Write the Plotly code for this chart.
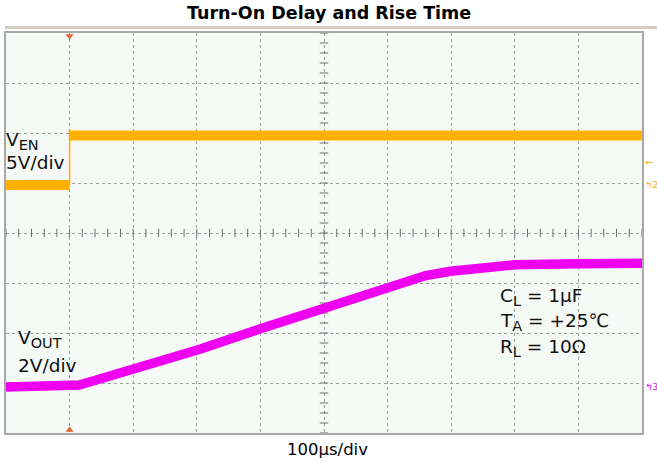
import numpy as np
import plotly.graph_objects as go

# ---------------- data ----------------
# time axis in microseconds, 100 us/div, trigger at t = 0
x_range_us = [-100, 900]
x_divs_us = list(range(-100, 901, 100))

# V_EN channel, 5 V/div
ven_time_us = [-100, 0, None, 0, 900]
ven_volts = [0.0, 0.0, None, 4.95, 4.95]
ven_edge_time_us = [0, 0]
ven_edge_volts = [0.0, 5.6]

# V_OUT channel, 2 V/div
vout_time_us = [-100, 0, 15, 50, 100, 150, 206, 300, 400, 500, 530, 560, 599, 625, 646, 675, 700, 800, 900]
vout_volts = [0.0, 0.0, 0.08, 0.34, 0.71, 1.1, 1.52, 2.33, 3.18, 4.05, 4.28, 4.46, 4.63, 4.72, 4.79, 4.85, 4.89, 4.93, 4.95]

# channel settings (volts per division, ground position in divisions from bottom)
VEN_VDIV, VEN_GND = 5.0, 4.96
VOUT_VDIV, VOUT_GND = 2.0, 0.92
N_YDIV = 8

title_text = "Turn-On Delay and Rise Time"
xlabel_text = "100µs/div"

ORANGE = "#FFB000"
MAGENTA = "#F000F0"
GRID = "#A0A0A0"

# plot-area geometry in page pixels (for placing paper-referenced text)
L, R, T, B = 6, 642, 33, 433
def px(xp):
    return (xp - L) / (R - L)
def py(yp):
    return (B - yp) / (B - T)

def to_div(volts, vdiv, gnd):
    return [None if v is None else gnd + v / vdiv for v in volts]

fig = go.Figure()

# graticule minor ticks on centre lines
xc = (x_range_us[0] + x_range_us[1]) / 2
yc = N_YDIV / 2
hx = np.arange(x_range_us[0], x_range_us[1] + 1e-9, 20.0)
vy = np.arange(0, N_YDIV + 1e-9, 0.2)
fig.add_trace(go.Scatter(x=hx, y=[yc] * len(hx), mode="markers",
                         marker=dict(symbol="line-ns", size=6, line=dict(width=1, color="#707070")),
                         hoverinfo="skip", showlegend=False))
fig.add_trace(go.Scatter(x=[xc] * len(vy), y=vy, mode="markers",
                         marker=dict(symbol="line-ew", size=6, line=dict(width=1, color="#707070")),
                         hoverinfo="skip", showlegend=False))

# traces
fig.add_trace(go.Scatter(x=ven_edge_time_us, y=to_div(ven_edge_volts, VEN_VDIV, VEN_GND),
                         mode="lines", line=dict(color=ORANGE, width=1.5), showlegend=False))
fig.add_trace(go.Scatter(x=ven_time_us, y=to_div(ven_volts, VEN_VDIV, VEN_GND),
                         mode="lines", line=dict(color=ORANGE, width=10), showlegend=False))
fig.add_trace(go.Scatter(x=vout_time_us, y=to_div(vout_volts, VOUT_VDIV, VOUT_GND),
                         mode="lines", line=dict(color=MAGENTA, width=9.5), showlegend=False))

# trigger position markers
fig.add_trace(go.Scatter(x=[0, 0], y=[N_YDIV - 0.06, 0.06], mode="markers",
                         marker=dict(symbol=["triangle-down", "triangle-up"], size=7, color="#E8603A"),
                         hoverinfo="skip", showlegend=False, cliponaxis=False))

FONT = "DejaVu Sans, Liberation Sans, sans-serif"
ann = []
def txt(xp, yp, t, size=18.5, color="#111", xanchor="left"):
    ann.append(dict(x=px(xp), y=py(yp), xref="paper", yref="paper", text=t, showarrow=False,
                    xanchor=xanchor, yanchor="middle", font=dict(family=FONT, size=size, color=color)))

def sub(s):
    return "<sub><span style='font-size:14.5px'>" + s + "</span></sub>"

txt(4, 141, "V" + sub("EN"))
txt(4, 163, "5V/div")
txt(16, 339, "V" + sub("OUT"))
txt(16, 365, "2V/div")
txt(498, 297, "C" + sub("L") + " = 1µF")
txt(498, 322, "T" + sub("A") + " = +25℃")
txt(498, 348, "R" + sub("L") + " = 10Ω")

# right-edge channel markers
txt(643, 163, "←", size=10, color=ORANGE)
txt(643, B - VEN_GND * (B - T) / N_YDIV, "↰2", size=9, color=ORANGE)
txt(643, B - VOUT_GND * (B - T) / N_YDIV, "↰3", size=9, color=MAGENTA)

# title and x label
txt(329, 13, "<b>" + title_text + "</b>", size=17.5, color="#000", xanchor="center")
txt(327, 449, xlabel_text, size=16.5, color="#000", xanchor="center")

fig.update_layout(
    width=657, height=463,
    margin=dict(l=L, r=657 - R, t=T, b=463 - B),
    paper_bgcolor="white", plot_bgcolor="#F6FAF7",
    annotations=ann,
    shapes=[dict(type="line", xref="paper", yref="paper", x0=px(5), x1=px(657),
                 y0=py(27.5), y1=py(27.5), line=dict(color="#D2CEC3", width=3))],
)
fig.update_xaxes(range=x_range_us, tickvals=x_divs_us, showticklabels=False, ticks="",
                 showgrid=True, gridcolor=GRID, griddash="dot", gridwidth=1, zeroline=False,
                 showline=True, mirror=True, linecolor="#A8A8A8", linewidth=2, fixedrange=True)
fig.update_yaxes(range=[0, N_YDIV], tickvals=list(range(N_YDIV + 1)), showticklabels=False, ticks="",
                 showgrid=True, gridcolor=GRID, griddash="dot", gridwidth=1, zeroline=False,
                 showline=True, mirror=True, linecolor="#A8A8A8", linewidth=2, fixedrange=True)

fig.write_html("out.html", config={"displayModeBar": False},
               post_script="document.body.style.margin='0';")
